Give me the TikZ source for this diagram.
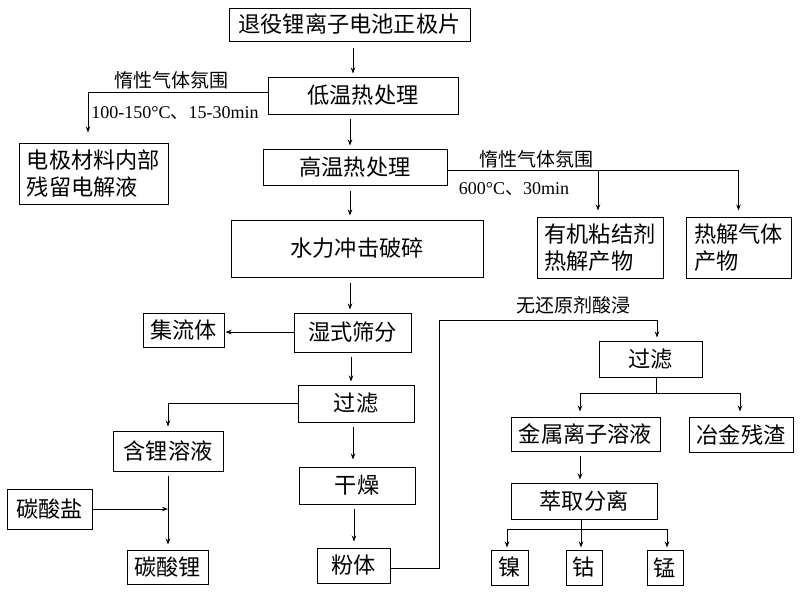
\documentclass[tikz,border=0pt]{standalone}
\usepackage{fontspec}
\setmainfont{Liberation Serif}
\newfontfamily\cjk{Noto Sans CJK SC}
\usetikzlibrary{arrows.meta}
\begin{document}
\begin{tikzpicture}[x=1pt,y=-1pt,
  box/.style={draw,line width=1pt,inner sep=0pt,font=\cjk\fontsize{22.2}{27.5}\selectfont},
  arr/.style={-{Stealth[length=6pt,width=4.5pt]},line width=0.85pt},
  ln/.style={line width=0.85pt},
  lab/.style={inner sep=0pt,font=\fontsize{18}{22}\selectfont},
  cjklab/.style={inner sep=0pt,font=\cjk\fontsize{19}{22}\selectfont}]
\useasboundingbox[fill=white] (0,0) rectangle (800,592);

% nodes
\node[box,minimum width=241pt,minimum height=33pt] (b1) at (349.5,24.5) {退役锂离子电池正极片};
\node[box,minimum width=190pt,minimum height=37pt] (b2) at (363,95.5) {低温热处理};
\node[box,minimum width=184pt,minimum height=36pt] (b3) at (355,167) {高温热处理};
\node[box,minimum width=252pt,minimum height=57pt] (b4) at (357,248.5) {水力冲击破碎};
\node[box,minimum width=149pt,minimum height=61pt,align=left] (elec) at (93.5,173.5) {电极材料内部\\残留电解液};
\node[box,minimum width=126pt,minimum height=61pt,align=left] (org) at (600,247.5) {有机粘结剂\\热解产物};
\node[box,minimum width=105pt,minimum height=61pt,align=left] (gas) at (738.5,247.5) {热解气体\\产物};
\node[box,minimum width=117pt,minimum height=39pt] (wet) at (352.5,332.5) {湿式筛分};
\node[box,minimum width=81pt,minimum height=34pt] (coll) at (183.5,330) {集流体};
\node[box,minimum width=116pt,minimum height=37pt] (filt1) at (356,403.5) {过滤};
\node[box,minimum width=110pt,minimum height=40pt] (lisol) at (168,451) {含锂溶液};
\node[box,minimum width=81pt,minimum height=34pt] (li2co3) at (167.5,567) {碳酸锂};
\node[box,minimum width=85pt,minimum height=40pt] (carb) at (49.5,509) {碳酸盐};
\node[box,minimum width=116pt,minimum height=37pt] (dry) at (357,485.5) {干燥};
\node[box,minimum width=73pt,minimum height=35pt] (powder) at (353.5,565.5) {粉体};
\node[box,minimum width=103pt,minimum height=36pt] (filt2) at (650.5,359) {过滤};
\node[box,minimum width=149pt,minimum height=34pt] (metal) at (585.5,434) {金属离子溶液};
\node[box,minimum width=104pt,minimum height=35pt] (slag) at (741,434.5) {冶金残渣};
\node[box,minimum width=146pt,minimum height=36pt] (extr) at (584,501) {萃取分离};
\node[box,minimum width=37pt,minimum height=35pt] (ni) at (509.5,567.5) {镍};
\node[box,minimum width=36pt,minimum height=35pt] (co) at (584,567.5) {钴};
\node[box,minimum width=36pt,minimum height=35pt] (mn) at (665,567.5) {锰};

% labels
\node[cjklab] (l1) at (171,80) {惰性气体氛围};
\node[lab] (l2) at (175,113) {100-150°C{\cjk 、}15-30min};
\node[cjklab] (l3) at (536,159) {惰性气体氛围};
\node[lab] (l4) at (514,189) {600°C{\cjk 、}30min};
\node[cjklab] (l5) at (573,305) {无还原剂酸浸};

% main column
\draw[arr,shorten <=6pt,shorten >=3pt] ([xshift=3.5pt]b1.south) -- ([xshift=3.5pt]b1.south |- b2.north);
\draw[arr,shorten <=4pt,shorten >=3pt] ([xshift=-13pt]b2.south) -- ([xshift=-13pt]b2.south |- b3.north);
\draw[arr,shorten <=5pt,shorten >=4pt] ([xshift=-5pt]b3.south) -- ([xshift=-5pt]b3.south |- b4.north);
\draw[arr,shorten <=5pt,shorten >=3pt] ([xshift=-7pt]b4.south) -- ([xshift=-7pt]b4.south |- wet.north);
\draw[arr,shorten >=1pt] ([yshift=0.5pt]wet.west) -- ([yshift=0.5pt]wet.west -| coll.east);
\draw[arr,shorten <=4pt,shorten >=3pt] ([xshift=-1.5pt]wet.south) -- ([xshift=-1.5pt]wet.south |- filt1.north);
\draw[arr,shorten <=4pt,shorten >=7pt] ([xshift=-3pt]filt1.south) -- ([xshift=-3pt]filt1.south |- dry.north);
\draw[arr,shorten <=4pt,shorten >=6pt] ([xshift=-3pt]dry.south) -- ([xshift=-3pt]dry.south |- powder.north);

% low-temperature branch
\draw[arr,shorten >=10pt] ([yshift=3.5pt]b2.west) -| ([xshift=-5.5pt]elec.north);

% high-temperature branch
\coordinate (hjoin) at ([yshift=-3pt]b3.east -| org.north);
\draw[arr,shorten >=6pt] ([yshift=-3pt]b3.east) -| (gas.north);
\draw[arr,shorten >=6pt] ([xshift=-2pt]hjoin) -- ([xshift=-2pt]org.north);

% lithium branch
\draw[arr,shorten >=4pt] (filt1.west) -| (lisol.north);
\draw[arr,shorten <=4pt,shorten >=5pt] (lisol.south) -- (lisol.south |- li2co3.north);
\draw[arr] (carb.east) -- (carb.east -| lisol.south);

% leaching branch
\coordinate (bend) at (439,320);
\draw[arr,shorten >=3pt] ([yshift=-2.5pt]powder.east) -| (bend) -| ([xshift=6.5pt]filt2.north);
\coordinate (fsplit) at (656,393);
\draw[ln] ([xshift=5.5pt]filt2.south) -- (fsplit);
\draw[arr,shorten >=5pt] (fsplit) -| ([xshift=-5.5pt]metal.north);
\draw[arr,shorten >=5pt] (fsplit) -| ([xshift=-1pt]slag.north);
\draw[arr,shorten <=4pt,shorten >=3pt] ([xshift=-5.5pt]metal.south) -- ([xshift=-5.5pt]metal.south |- extr.north);

% extraction split
\coordinate (esplit) at (581,529);
\draw[arr,shorten >=2pt] ([xshift=-3pt]extr.south) -- ([xshift=-3pt]co.north);
\draw[arr,shorten >=2pt] (esplit) -| ([xshift=-2.5pt]ni.north);
\draw[arr,shorten >=2pt] (esplit) -| ([xshift=2pt]mn.north);
\end{tikzpicture}
\end{document}
